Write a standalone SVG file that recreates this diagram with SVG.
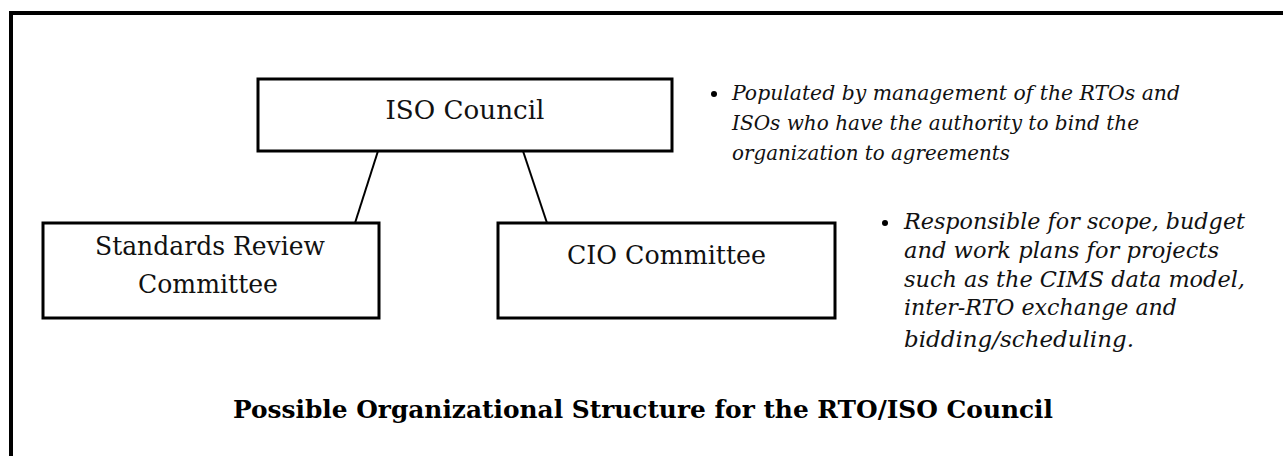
<svg xmlns="http://www.w3.org/2000/svg" width="1283" height="456" viewBox="0 0 1283 456">
<style>
.box{fill:#fff;stroke:#000;stroke-width:3}
.lbl{font-family:"DejaVu Serif","Liberation Serif",serif;font-size:25.5px;fill:#111;text-anchor:middle}
.it{font-family:"DejaVu Serif","Liberation Serif",serif;font-style:italic;font-size:20.5px;fill:#111}
.it2{font-family:"DejaVu Serif","Liberation Serif",serif;font-style:italic;font-size:22.5px;fill:#111}
.cap{font-family:"DejaVu Serif","Liberation Serif",serif;font-weight:bold;font-size:24.5px;fill:#000;text-anchor:middle}
.conn{stroke:#000;stroke-width:2;fill:none}
</style>
<rect x="0" y="0" width="1283" height="456" fill="#fff"/>
<path d="M11,470 V13 H1300" fill="none" stroke="#000" stroke-width="4"/>
<g id="connectors">
<line class="conn" x1="378" y1="151" x2="355" y2="223"/>
<line class="conn" x1="523" y1="151" x2="547" y2="223"/>
</g>
<g id="iso-council">
<rect class="box" x="258" y="79" width="414" height="72"/>
<text class="lbl" x="465" y="119" textLength="159" lengthAdjust="spacingAndGlyphs">ISO Council</text>
</g>
<g id="standards-review">
<rect class="box" x="43" y="223" width="336" height="95"/>
<text class="lbl" x="210" y="255" textLength="230" lengthAdjust="spacingAndGlyphs">Standards Review</text>
<text class="lbl" x="208" y="293" textLength="140" lengthAdjust="spacingAndGlyphs">Committee</text>
</g>
<g id="cio-committee">
<rect class="box" x="498" y="223" width="337" height="95"/>
<text class="lbl" x="666.5" y="264" textLength="199" lengthAdjust="spacingAndGlyphs">CIO Committee</text>
</g>
<g id="note1">
<circle cx="714" cy="94" r="3"/>
<text class="it" x="732" y="100" textLength="448" lengthAdjust="spacingAndGlyphs">Populated by management of the RTOs and</text>
<text class="it" x="732" y="130" textLength="407" lengthAdjust="spacingAndGlyphs">ISOs who have the authority to bind the</text>
<text class="it" x="732" y="160" textLength="278" lengthAdjust="spacingAndGlyphs">organization to agreements</text>
</g>
<g id="note2">
<circle cx="885" cy="223" r="3"/>
<text class="it2" x="904" y="229" textLength="341" lengthAdjust="spacingAndGlyphs">Responsible for scope, budget</text>
<text class="it2" x="904" y="258" textLength="315" lengthAdjust="spacingAndGlyphs">and work plans for projects</text>
<text class="it2" x="904" y="287" textLength="341" lengthAdjust="spacingAndGlyphs">such as the CIMS data model,</text>
<text class="it2" x="904" y="315" textLength="273" lengthAdjust="spacingAndGlyphs">inter-RTO exchange and</text>
<text class="it2" x="904" y="347" textLength="230" lengthAdjust="spacingAndGlyphs">bidding/scheduling.</text>
</g>
<text class="cap" x="643" y="418" textLength="820" lengthAdjust="spacingAndGlyphs">Possible Organizational Structure for the RTO/ISO Council</text>
</svg>
